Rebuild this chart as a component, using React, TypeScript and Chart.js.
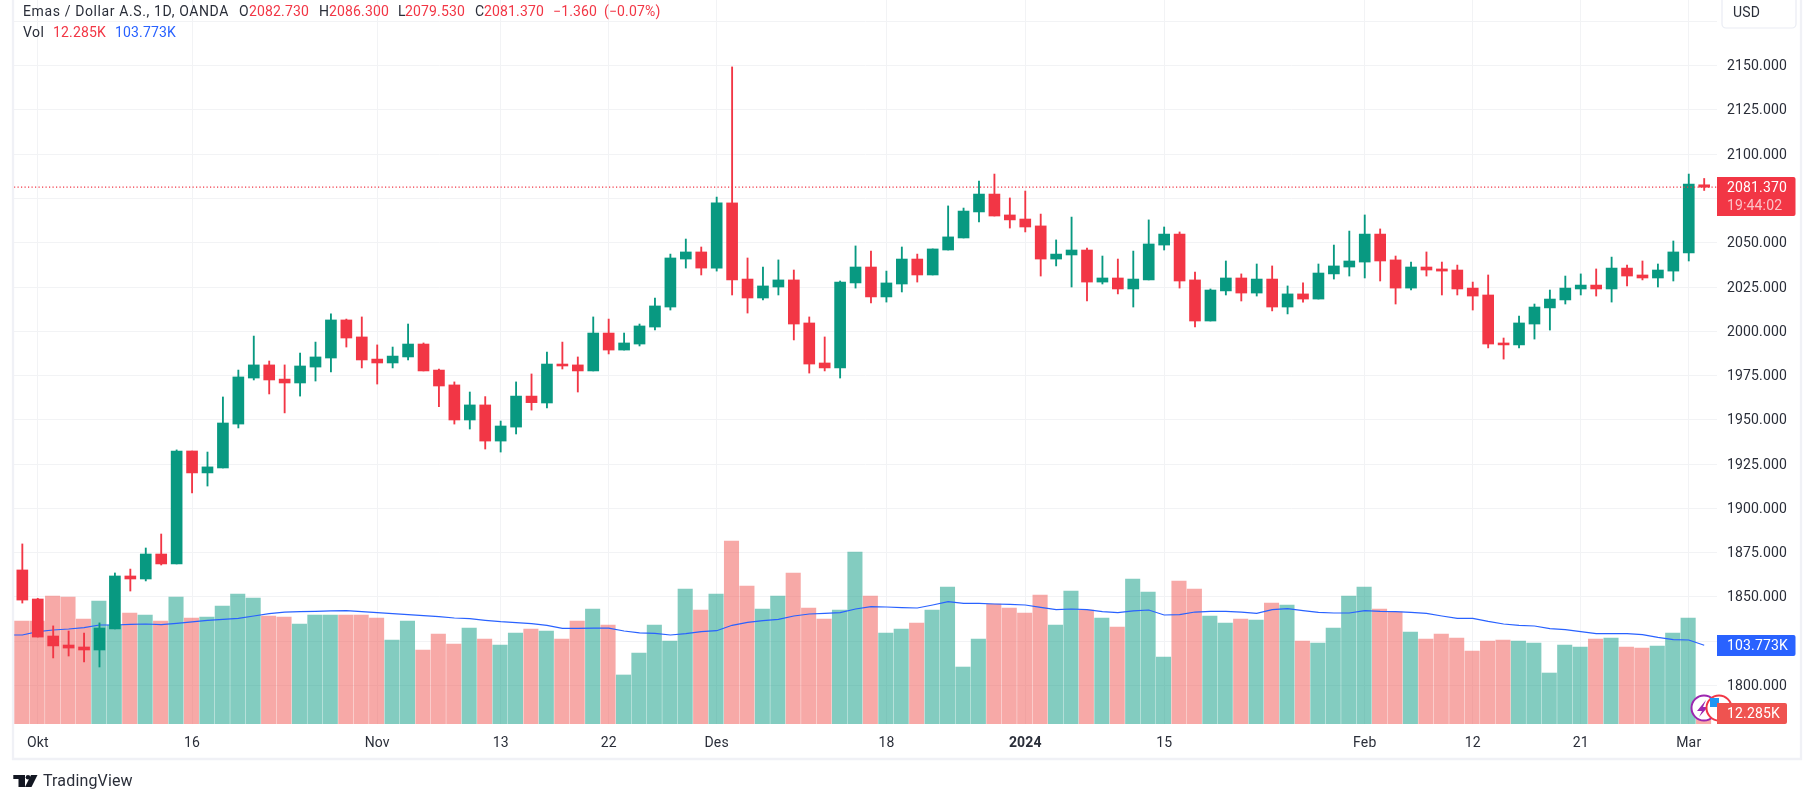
import { useEffect, useRef } from 'react';
import { Chart, registerables } from 'chart.js';

Chart.register(...registerables);

const highs = [
  1879.9, 1849.2, 1833.6, 1830.7, 1829.6, 1835.3, 1863.5, 1865.7, 1877.6, 1885.5,
  1933, 1932.4, 1931.8, 1962.9, 1978.1, 1997.3, 1983.2, 1981, 1987.7, 1993.9,
  2009.8, 2006.9, 2008.1, 1992.3, 1991.1, 2004.1, 1993.4, 1978.7, 1971.4, 1965.7,
  1963.1, 1949.3, 1971.4, 1975.9, 1988.3, 1993.9, 1985.5, 2008.1, 2006.9, 1999,
  2004.1, 2018.8, 2043.6, 2052.1, 2047.6, 2075.8, 2149.3, 2041.4, 2036.3, 2040.3,
  2034.6, 2008.1, 1996.8, 2028.4, 2048.2, 2045.3, 2034, 2047.6, 2043.6, 2046.5,
  2070.8, 2069.6, 2084.9, 2088.8, 2075.3, 2079.2, 2066.2, 2051.6, 2064.5, 2047,
  2042.5, 2040.8, 2045.3, 2062.9, 2058.9, 2056.1, 2033.5, 2023.9, 2039.7, 2032.4,
  2038, 2036.9, 2025.6, 2027.3, 2038, 2048.7, 2056.6, 2065.7, 2057.8, 2042.5,
  2039.1, 2044.8, 2039.1, 2037.4, 2027.8, 2031.8, 1996.2, 2008.6, 2015.4, 2023.3,
  2031.2, 2032.4, 2035.2, 2041.9, 2037.4, 2039.7, 2038, 2051, 2088.8, 2086.3,
];

const lows = [
  1846.5, 1827.3, 1815.5, 1816.6, 1813.2, 1810.4, 1831.9, 1853.3, 1859, 1868,
  1868.6, 1908.7, 1912.6, 1922.8, 1945.4, 1972.5, 1964.6, 1953.9, 1963.4, 1971.9,
  1977, 1991.1, 1979.3, 1970.2, 1979.3, 1983.8, 1977.6, 1957.4, 1947.6, 1944.8,
  1933.5, 1931.8, 1942, 1955.5, 1956.7, 1978.7, 1965.7, 1977.6, 1987.2, 1989.4,
  1991.7, 2000.7, 2012, 2035.7, 2031.8, 2034, 2020.5, 2010.3, 2017.7, 2020.5,
  1995.1, 1976.4, 1977.6, 1973.6, 2024.4, 2016, 2016.5, 2022.2, 2027.8, 2031.8,
  2045.9, 2052.7, 2061.7, 2065.1, 2058.3, 2056.1, 2031.2, 2036.9, 2025, 2017.1,
  2026.7, 2021.1, 2013.7, 2029, 2045.9, 2024.4, 2002.4, 2005.8, 2020.5, 2017.1,
  2019.9, 2011.5, 2009.8, 2016.5, 2018.2, 2029.5, 2031.2, 2030.1, 2028.4, 2015.4,
  2023.3, 2031.2, 2020.5, 2020.5, 2012, 1990.6, 1984.3, 1990.6, 1995.6, 2000.7,
  2015.4, 2020.5, 2019.9, 2016.5, 2025.6, 2029, 2025, 2028.4, 2039.7, 2079.53,
];

const opens = [
  1865.2, 1848.8, 1827.9, 1822.8, 1821.7, 1820, 1831.9, 1861.8, 1860.1, 1874.2,
  1868.6, 1932.4, 1920, 1922.8, 1947.6, 1973.6, 1981, 1973, 1970.8, 1979.8,
  1984.9, 2006.4, 1996.8, 1984.3, 1982.1, 1985.5, 1992.8, 1978.1, 1969.7, 1949.9,
  1958.4, 1938, 1945.9, 1963.4, 1959.5, 1981.5, 1981, 1977.6, 1999, 1989.4,
  1992.8, 2002.4, 2013.7, 2040.8, 2044.8, 2035.7, 2072.5, 2029.5, 2018.8, 2025,
  2029, 2004.7, 1982.1, 1979.3, 2027.3, 2036.3, 2019.4, 2026.7, 2040.8, 2031.8,
  2045.9, 2052.7, 2067.4, 2077.5, 2065.7, 2063.4, 2059.5, 2040.8, 2043.1, 2045.9,
  2027.8, 2030.1, 2023.9, 2029, 2048.7, 2054.9, 2029, 2005.8, 2022.8, 2030.1,
  2021.6, 2029.5, 2013.7, 2021.1, 2018.2, 2032.4, 2036.3, 2039.1, 2054.9, 2040.3,
  2024.4, 2036.3, 2035.2, 2034.6, 2024.4, 2020.5, 1993.4, 1992.3, 2004.1, 2013.2,
  2017.7, 2023.9, 2026.1, 2023.9, 2035.7, 2031.8, 2030.1, 2034, 2044.2, 2082.73,
];

const closes = [
  1848.2, 1827.3, 1822.3, 1821.1, 1820, 1832.4, 1861.8, 1860.1, 1874.2, 1868.6,
  1932.4, 1920, 1923.4, 1948.2, 1974.2, 1981, 1972.5, 1970.8, 1980.4, 1985.5,
  2006.4, 1996.2, 1983.8, 1982.1, 1986, 1992.8, 1977.6, 1969.1, 1949.9, 1958.4,
  1938, 1946.5, 1963.4, 1959.7, 1981.5, 1980.4, 1977.6, 1999, 1989.4, 1993.4,
  2003, 2014.3, 2041.4, 2044.8, 2035.7, 2072.5, 2029, 2018.8, 2025.6, 2029,
  2004.1, 1981.5, 1979.3, 2027.8, 2036.3, 2019.4, 2027.3, 2040.8, 2031.8, 2046.5,
  2053.3, 2067.9, 2077.5, 2065.1, 2062.9, 2058.9, 2040.8, 2043.6, 2045.9, 2027.8,
  2030.1, 2023.9, 2029.5, 2049.3, 2054.9, 2028.4, 2005.8, 2023.3, 2030.1, 2021.6,
  2029.5, 2013.7, 2021.1, 2018.2, 2032.9, 2036.9, 2039.7, 2054.9, 2039.7, 2024.4,
  2036.3, 2034.6, 2034, 2023.9, 2019.9, 1992.8, 1992.3, 2004.7, 2013.7, 2018.2,
  2024.4, 2026.1, 2023.9, 2035.7, 2031.2, 2030.1, 2034.6, 2044.8, 2083.2, 2081.37,
];

// volume in thousands
const volumes = [
  135.8, 135.8, 168.7, 167.4, 138.4, 162.1, 130.5, 146.3, 143.7, 135.8,
  167.4, 139.7, 141, 155.5, 171.4, 166.1, 142.4, 141, 131.8, 143.7,
  143.7, 143.7, 143.7, 139.7, 110.7, 135.8, 97.5, 118.6, 105.5, 126.5,
  112, 104.1, 120, 125.2, 122.6, 112, 135.8, 151.6, 130.5, 64.6,
  93.6, 130.5, 109.4, 178, 150.3, 171.4, 241.2, 181.9, 151.6, 168.7,
  199, 152.9, 138.4, 150.3, 226.7, 168.7, 120, 125.2, 133.1, 150.3,
  180.6, 75.1, 112, 158.2, 152.9, 146.3, 170, 130.5, 175.3, 150.3,
  139.7, 127.9, 191.1, 174, 88.3, 188.5, 178, 142.4, 133.1, 138.4,
  137.1, 159.5, 156.9, 109.4, 106.8, 126.5, 168.7, 180.6, 151.6, 147.6,
  121.3, 112, 118.6, 113.4, 96.2, 109.4, 110.7, 109.4, 106.8, 67.2,
  104.1, 101.5, 112, 113.4, 101.5, 100.2, 102.8, 120, 139.7, 12.285,
];

const volumeMa = [
  117.3, 121.7, 123.9, 125.2, 127, 130.5, 130.5, 131.4, 131.8, 130.9,
  132.7, 134.5, 136.7, 138, 139.3, 142.4, 145.4, 147.6, 148.1, 148.5,
  149, 149.4, 148.1, 146.8, 145.4, 144.1, 142.8, 141.5, 139.7, 138.9,
  136.7, 134.9, 133.6, 132.3, 130.1, 126.1, 126.1, 126.5, 126.5, 122.6,
  120, 119.5, 117.3, 119.1, 121.7, 123, 130.1, 134, 136.2, 138,
  142.4, 145, 145.9, 146.8, 151.6, 154.7, 154.2, 153.4, 152.9, 156.9,
  161.3, 159.1, 159.1, 158.2, 157.7, 156.9, 153.8, 150.7, 151.6, 150.7,
  148.1, 146.8, 149, 150.3, 143.7, 144.1, 147.6, 148.5, 148.5, 147.6,
  145.9, 150.7, 152, 149.4, 147.2, 146.3, 146.3, 149.4, 148.5, 148.1,
  147.2, 145.9, 142.4, 139.3, 139.3, 135.3, 131.8, 130.1, 129.2, 125.7,
  124.3, 121.7, 119.1, 119.1, 119.1, 117.8, 114.2, 111.2, 110.7, 103.773,
];
const volumeMaBefore = 117.3; // the average runs on past the left edge

const dateTickBars = [1, 11, 23, 31, 38, 45, 56, 65, 74, 87, 94, 101, 108];
const dateTickLabels = ['Okt', '16', 'Nov', '13', '22', 'Des', '18', '2024', '15', 'Feb', '12', '21', 'Mar'];
const priceTicks = [1800, 1825, 1850, 1875, 1900, 1925, 1950, 1975, 2000, 2025, 2050, 2075, 2100, 2125, 2150, 2175];

const UP = '#089981';
const DOWN = '#f23645';
const UP_VOL = 'rgba(8, 153, 129, 0.5)';
const DOWN_VOL = 'rgba(239, 83, 80, 0.5)';
const BLUE = '#2962ff';
const INK = '#2a2e39';
const GRID = '#f2f3f5';
const FRAME = '#f0f1f6';
const FONT = 'Roboto';
const SIZE = 14;

const X_MIN = -0.54;
const X_MAX = 109.83;

const isDown = (i: number) => closes[i] < opens[i];

function put(ctx: any, text: string, x: number, y: number, color: string, size = SIZE, spacing = '0.15px') {
  ctx.letterSpacing = spacing;
  ctx.fillStyle = color;
  ctx.font = `${size}px ${FONT}`;
  ctx.textAlign = 'left';
  ctx.textBaseline = 'middle';
  ctx.fillText(text, x, y + 1);
}

function tag(ctx: CanvasRenderingContext2D, x: number, y: number, w: number, h: number, color: string) {
  ctx.fillStyle = color;
  ctx.beginPath();
  ctx.roundRect(x, y, w, h, [0, 2, 2, 0]);
  ctx.fill();
}

const overlay = {
  id: 'overlay',
  beforeDraw(chart: Chart) {
    // the tick labels are tracked a little wider than plain Roboto
    (chart.ctx as any).letterSpacing = '0.15px';
  },
  afterDraw(chart: Chart) {
    const ctx = chart.ctx;
    ctx.save();

    // outer frame
    ctx.strokeStyle = FRAME;
    ctx.lineWidth = 2.3;
    ctx.beginPath();
    ctx.moveTo(13, 0);
    ctx.lineTo(13, 759);
    ctx.lineTo(1801, 759);
    ctx.lineTo(1801, 0);
    ctx.stroke();

    // header
    put(ctx, 'Emas / Dollar A.S., 1D, OANDA', 23, 11, INK, SIZE, '0.62px');
    put(ctx, 'O', 239, 11, INK);
    put(ctx, '2082.730', 249, 11, DOWN);
    put(ctx, 'H', 319, 11, INK);
    put(ctx, '2086.300', 329, 11, DOWN);
    put(ctx, 'L', 398, 11, INK);
    put(ctx, '2079.530', 405, 11, DOWN);
    put(ctx, 'C', 475, 11, INK);
    put(ctx, '2081.370', 484, 11, DOWN);
    put(ctx, '\u22121.360', 553, 11, DOWN);
    put(ctx, '(\u22120.07%)', 604, 11, DOWN);
    put(ctx, 'Vol', 23, 32, INK, SIZE, '0.5px');
    put(ctx, '12.285K', 53, 32, DOWN);
    put(ctx, '103.773K', 115, 32, BLUE);

    // currency box
    ctx.fillStyle = '#ffffff';
    ctx.strokeStyle = '#e9ecf3';
    ctx.lineWidth = 1.2;
    ctx.beginPath();
    ctx.roundRect(1722, -6, 74, 34, 4);
    ctx.fill();
    ctx.stroke();
    put(ctx, 'USD', 1733, 12, INK);

    // event markers on the time axis edge
    ctx.fillStyle = '#ffffff';
    ctx.strokeStyle = '#9c27b0';
    ctx.lineWidth = 2;
    ctx.beginPath();
    ctx.arc(1704, 708, 12.5, 0, Math.PI * 2);
    ctx.fill();
    ctx.stroke();
    ctx.fillStyle = '#9c27b0';
    ctx.beginPath();
    ctx.moveTo(1706, 700);
    ctx.lineTo(1697, 711);
    ctx.lineTo(1702, 711);
    ctx.lineTo(1699, 717);
    ctx.lineTo(1708, 707);
    ctx.lineTo(1703, 707);
    ctx.closePath();
    ctx.fill();
    ctx.fillStyle = '#ffffff';
    ctx.strokeStyle = DOWN;
    ctx.beginPath();
    ctx.arc(1719, 708, 12.5, 0, Math.PI * 2);
    ctx.fill();
    ctx.stroke();
    ctx.fillStyle = '#2196f3';
    ctx.fillRect(1710, 698, 9, 9);

    // price tags
    tag(ctx, 1717, 177, 78.5, 39, DOWN);
    put(ctx, '2081.370', 1727, 187, '#ffffff');
    put(ctx, '19:44:02', 1727, 205, 'rgba(255, 255, 255, 0.7)');
    tag(ctx, 1717, 635, 78.5, 21, BLUE);
    put(ctx, '103.773K', 1727, 645, '#ffffff');
    tag(ctx, 1717, 703, 70, 21, '#ef5350');
    put(ctx, '12.285K', 1727, 713, '#ffffff');

    // logo
    ctx.fillStyle = '#131722';
    ctx.fillRect(13.3, 775, 11.7, 4);
    ctx.fillRect(18.5, 775, 6.5, 12);
    ctx.beginPath();
    ctx.arc(28, 777.3, 2.3, 0, Math.PI * 2);
    ctx.fill();
    ctx.beginPath();
    ctx.moveTo(31, 775);
    ctx.lineTo(37.5, 775);
    ctx.lineTo(31.5, 787);
    ctx.lineTo(25, 787);
    ctx.closePath();
    ctx.fill();
    put(ctx, 'TradingView', 43, 781, INK, 16);

    ctx.restore();
  },
};

export default function App() {
  const canvasRef = useRef<HTMLCanvasElement>(null);

  useEffect(() => {
    if (!canvasRef.current) return;

    const bars = closes.map((_, i) => i);
    const chart = new Chart(canvasRef.current, {
      type: 'bar',
      data: {
        datasets: [
          {
            type: 'bar',
            label: 'Vol',
            yAxisID: 'vol',
            grouped: false,
            order: 4,
            barThickness: 14.4,
            data: bars.map((i) => ({ x: i - 0.04, y: volumes[i] })),
            backgroundColor: bars.map((i) => (isDown(i) ? DOWN_VOL : UP_VOL)),
          },
          {
            type: 'line',
            label: 'Vol MA',
            yAxisID: 'vol',
            order: 3,
            data: [{ x: -1, y: volumeMaBefore }, ...bars.map((i) => ({ x: i, y: volumeMa[i] }))],
            borderColor: BLUE,
            borderWidth: 1.2,
            pointRadius: 0,
          },
          {
            type: 'bar',
            label: 'Wick',
            yAxisID: 'y',
            grouped: false,
            order: 2,
            barThickness: 1.2,
            data: bars.map((i) => ({ x: i, y: [lows[i], highs[i]] })),
            backgroundColor: bars.map((i) => (isDown(i) ? DOWN : UP)),
          },
          {
            type: 'bar',
            label: 'Body',
            yAxisID: 'y',
            grouped: false,
            order: 1,
            barThickness: 11,
            data: bars.map((i) => ({ x: i, y: [opens[i], closes[i]] })),
            backgroundColor: bars.map((i) => (isDown(i) ? DOWN : UP)),
          },
          {
            type: 'line',
            label: 'Last',
            yAxisID: 'y',
            order: 0,
            data: [
              { x: X_MIN, y: closes[closes.length - 1] },
              { x: X_MAX, y: closes[closes.length - 1] },
            ],
            borderColor: DOWN,
            borderWidth: 1.2,
            borderDash: [1.2, 2.3],
            pointRadius: 0,
          },
        ],
      } as any,
      options: {
        responsive: false,
        animation: false,
        events: [],
        layout: { padding: { left: 14, top: 0, right: 13, bottom: 45 } },
        plugins: { legend: { display: false }, tooltip: { enabled: false } },
        scales: {
          x: {
            type: 'linear',
            min: X_MIN,
            max: X_MAX,
            offset: false,
            afterBuildTicks: (scale: any) => {
              scale.ticks = dateTickBars.map((value) => ({ value }));
            },
            afterFit: (scale: any) => {
              scale.height = 34;
              scale.paddingLeft = 0;
              scale.paddingRight = 0;
            },
            grid: { color: GRID, offset: false, drawTicks: false },
            border: { display: false },
            ticks: {
              autoSkip: false,
              maxRotation: 0,
              padding: 11,
              color: INK,
              font: (ctx: any) => ({
                family: FONT,
                size: SIZE,
                weight: dateTickLabels[dateTickBars.indexOf(ctx.tick?.value)] === '2024' ? 'bold' : 'normal',
              }),
              callback: (value: any) => dateTickLabels[dateTickBars.indexOf(Number(value))] ?? '',
            },
          },
          y: {
            type: 'linear',
            position: 'right',
            min: 1778.2,
            max: 2187.1,
            afterBuildTicks: (scale: any) => {
              scale.ticks = priceTicks.map((value) => ({ value }));
            },
            afterFit: (scale: any) => {
              scale.width = 85;
              scale.paddingTop = 0;
              scale.paddingBottom = 0;
            },
            grid: { color: GRID, drawTicks: false },
            border: { display: false },
            ticks: {
              padding: 10,
              labelOffset: 1,
              color: INK,
              font: { family: FONT, size: SIZE },
              callback: (value: any) => (Number(value) === 2175 ? '' : Number(value).toFixed(3)),
            },
          },
          vol: {
            type: 'linear',
            display: false,
            min: 0,
            max: 954.4,
          },
        },
      } as any,
      plugins: [overlay],
    });

    return () => {
      chart.destroy();
    };
  }, []);

  return (
    <div style={{ position: 'fixed', left: 0, top: 0, width: 1815, height: 803, background: '#fff' }}>
      <canvas ref={canvasRef} width={1815} height={803} style={{ display: 'block' }} />
    </div>
  );
}
